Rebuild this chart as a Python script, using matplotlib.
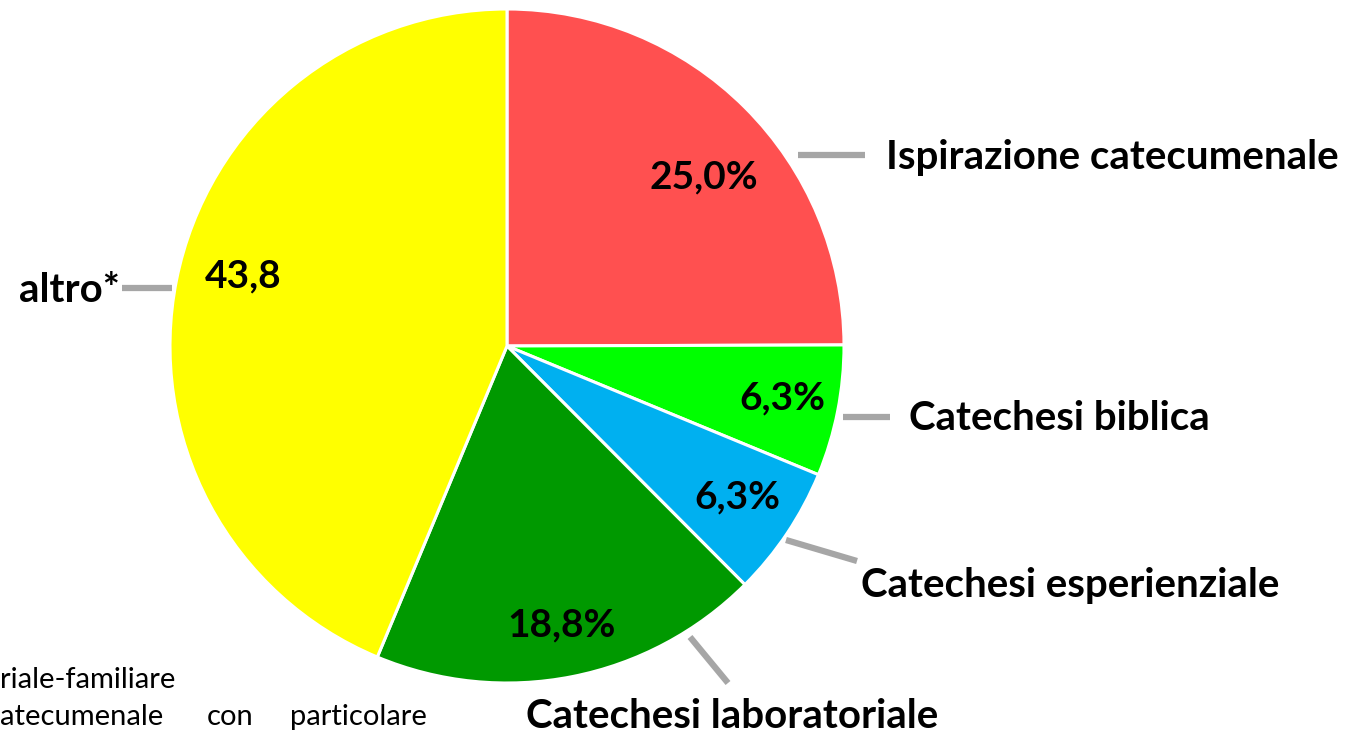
import matplotlib
matplotlib.use('Agg')
import matplotlib.pyplot as plt

categories = ['Ispirazione catecumenale', 'Catechesi biblica', 'Catechesi esperienziale',
              'Catechesi laboratoriale', 'altro*']
values = [25.0, 6.3, 6.3, 18.8, 43.8]
colors = ['#FF5050', '#00FF00', '#00B0F0', '#009900', '#FFFF00']

plt.rcParams['font.family'] = ['Lato', 'DejaVu Sans']

W, H = 1366, 735
fig = plt.figure(figsize=(W / 100, H / 100), dpi=100)
ax = fig.add_axes([0, 0, 1, 1])

# y axis runs top-down (pixel coords), so counterclock=True looks clockwise on screen
ax.pie(values, colors=colors, center=(507, 346), radius=337,
       startangle=-90, counterclock=True,
       wedgeprops=dict(edgecolor='white', linewidth=2.2))
ax.set_xlim(0, W)
ax.set_ylim(H, 0)
ax.set_aspect('equal')
ax.axis('off')

# value labels inside slices
pct_pos = [(704, 177), (782, 398), (737, 497), (562, 625), (243, 276)]
for i, (v, (x, y)) in enumerate(zip(values, pct_pos)):
    txt = f"{v:.1f}".replace('.', ',')
    if categories[i] != 'altro*':
        txt += '%'
    ax.text(x, y, txt, ha='center', va='center', fontsize=28, fontweight='bold', color='black')

# category labels with grey leader lines
leaders = [((798, 155), (865, 155)), ((843, 417), (890, 417)), ((786, 540), (857, 561)),
           ((690, 637), (728, 683)), ((122, 288), (172, 288))]
label_pos = [(886, 157, 'left'), (909, 418, 'left'), (861, 585, 'left'),
             (526, 717, 'left'), (120, 290, 'right')]
for cat, (p0, p1), (x, y, ha) in zip(categories, leaders, label_pos):
    ax.plot([p0[0], p1[0]], [p0[1], p1[1]], color='#A6A6A6', lw=4.5, solid_capstyle='butt')
    ax.text(x, y, cat, ha=ha, va='center', fontsize=29, fontweight='bold', color='black')

# footnote text cut off at the left edge of the picture
ax.text(0, 680, 'riale-familiare', ha='left', va='center', fontsize=21, color='black')
for word, x in [('atecumenale', 0), ('con', 207), ('particolare', 290)]:
    ax.text(x, 717, word, ha='left', va='center', fontsize=21, color='black')

fig.savefig('out.png', dpi=100)
